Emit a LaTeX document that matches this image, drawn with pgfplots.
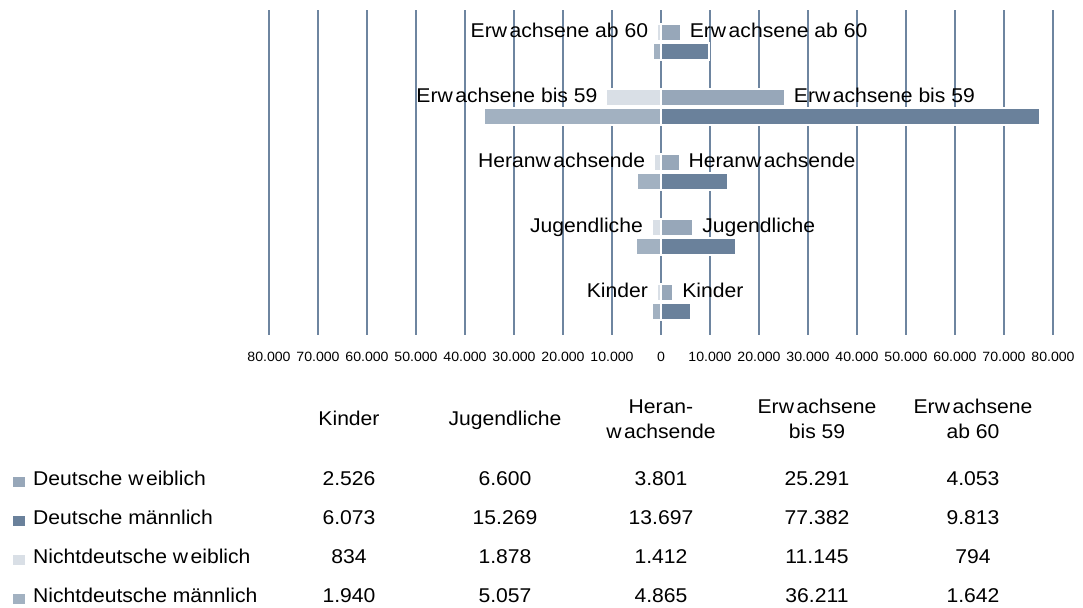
\documentclass[border=0pt]{standalone}
\usepackage{fontspec}
\setmainfont{Liberation Sans}
\newfontfamily\wide[FakeStretch=1.06]{Liberation Sans}
\newfontfamily\widetick[FakeStretch=1.05]{Liberation Sans}
\usepackage{pgfplots}
\usepackage{pgfplotstable}
\pgfplotsset{compat=1.18}
\definecolor{dw}{HTML}{97A7B9}
\definecolor{dm}{HTML}{6A819B}
\definecolor{nw}{HTML}{D9DFE6}
\definecolor{nm}{HTML}{A2B1C1}
\definecolor{gridc}{HTML}{6E85A0}
\newcommand{\Erw}{Erw\kern2.5bp achsene}
\newcommand{\Heranw}{Heranw\kern2.5bp achsende}
\newcommand{\lab}{\wide\fontsize{20}{24}\selectfont}
\pgfplotstableread{
y dw dm nw nm label
0 2526 6073 834 1940 Kinder
1 6600 15269 1878 5057 Jugendliche
2 3801 13697 1412 4865 {\Heranw}
3 25291 77382 11145 36211 {\Erw{} bis 59}
4 4053 9813 794 1642 {\Erw{} ab 60}
}\data
\begin{document}
\begin{tikzpicture}
\useasboundingbox (0,0) rectangle (1083bp,608bp);
\begin{axis}[
  at={(269bp,273bp)}, anchor=south west,
  scale only axis, width=784bp, height=325bp,
  xmin=-80000, xmax=80000, ymin=-0.5, ymax=4.5,
  xtick={-80000,-70000,...,80000},
  scaled x ticks=false,
  xticklabels={80.000,70.000,60.000,50.000,40.000,30.000,20.000,10.000,0,10.000,20.000,30.000,40.000,50.000,60.000,70.000,80.000},
  ytick=\empty,
  xmajorgrids, grid style={gridc, line width=1.8bp},
  axis line style={draw=none}, major tick length=0pt,
  xticklabel style={font=\widetick\fontsize{13.5}{16}\selectfont, yshift=-14bp},
  clip=false,
  bar width=17bp,
]
\addplot[xbar, bar shift=-9.5bp, fill=nm, draw=white, line width=2bp]
  table[x expr=-\thisrow{nm}, y=y] {\data};
\addplot[xbar, bar shift=9.5bp, fill=nw, draw=white, line width=2bp,
  nodes near coords, point meta=explicit symbolic,
  every node near coord/.append style={anchor=base east, xshift=-8bp, yshift=4.7bp, font=\lab, text=black, inner sep=0pt}]
  table[x expr=-\thisrow{nw}, y=y, meta=label] {\data};
\addplot[xbar, bar shift=-9.5bp, fill=dm, draw=white, line width=2bp]
  table[x=dm, y=y] {\data};
\addplot[xbar, bar shift=9.5bp, fill=dw, draw=white, line width=2bp,
  nodes near coords, point meta=explicit symbolic,
  every node near coord/.append style={anchor=base west, xshift=8bp, yshift=4.7bp, font=\lab, text=black, inner sep=0pt}]
  table[x=dw, y=y, meta=label] {\data};
\end{axis}
% table below
\begin{scope}[every node/.style={inner sep=0pt, font=\lab}]
\node[anchor=base] at (349bp,182bp) {Kinder};
\node[anchor=base] at (505bp,182bp) {Jugendliche};
\node[anchor=base] at (661bp,194bp) {Heran-};
\node[anchor=base] at (661bp,169bp) {w\kern2.5bp achsende};
\node[anchor=base] at (817bp,194bp) {\Erw};
\node[anchor=base] at (817bp,169bp) {bis 59};
\node[anchor=base] at (973bp,194bp) {\Erw};
\node[anchor=base] at (973bp,169bp) {ab 60};
\node[anchor=base west] at (13bp,122bp) {\textcolor{dw}{\rule[-1bp]{12bp}{10bp}}\hspace{8bp}Deutsche w\kern2.5bp eiblich};
\node[anchor=base west] at (13bp,83bp) {\textcolor{dm}{\rule[-1bp]{12bp}{10bp}}\hspace{8bp}Deutsche männlich};
\node[anchor=base west] at (13bp,44bp) {\textcolor{nw}{\rule[-1bp]{12bp}{10bp}}\hspace{8bp}Nichtdeutsche w\kern2.5bp eiblich};
\node[anchor=base west] at (13bp,5.5bp) {\textcolor{nm}{\rule[-1bp]{12bp}{10bp}}\hspace{8bp}Nichtdeutsche männlich};
\foreach \x/\a/\b/\c/\d in {349/2.526/6.073/834/1.940, 505/6.600/15.269/1.878/5.057, 661/3.801/13.697/1.412/4.865, 817/25.291/77.382/11.145/36.211, 973/4.053/9.813/794/1.642}{
  \node[anchor=base] at (\x bp,122bp) {\a};
  \node[anchor=base] at (\x bp,83bp) {\b};
  \node[anchor=base] at (\x bp,44bp) {\c};
  \node[anchor=base] at (\x bp,5.5bp) {\d};
}
\end{scope}
\end{tikzpicture}
\end{document}
